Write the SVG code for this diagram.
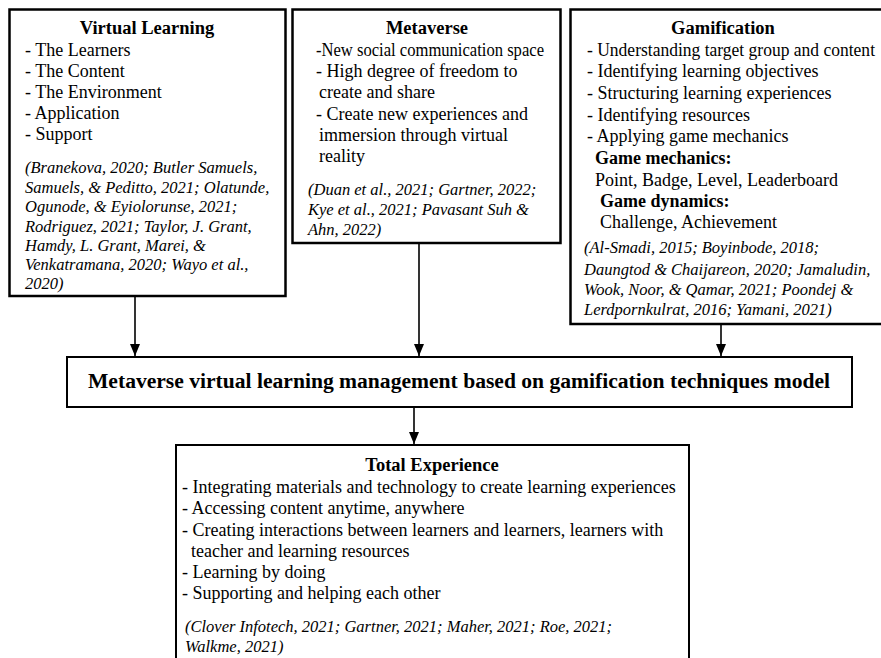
<svg xmlns="http://www.w3.org/2000/svg" width="881" height="658" viewBox="0 0 881 658">
<style>
.box{fill:#fff;stroke:#000;stroke-width:2.5}
.box2{fill:#fff;stroke:#000;stroke-width:2}
text{font-family:"Liberation Serif","Tinos","Times New Roman","DejaVu Serif",serif;fill:#000}
.t{font-size:18.5px;font-weight:bold;text-anchor:middle}
.b{font-size:18px;font-weight:bold}
.i{font-size:18px}
.c{font-size:16.5px;font-style:italic}
.conn{stroke:#000;stroke-width:1.6;fill:none}
</style>
<defs>
<marker id="ah" viewBox="0 0 12 10" refX="12" refY="5" markerWidth="12" markerHeight="10" markerUnits="userSpaceOnUse" orient="auto">
<path d="M0,0 L12,5 L0,10 Z" fill="#000"/>
</marker>
</defs>
<rect width="881" height="658" fill="#fff"/>
<g id="virtual-learning">
<rect class="box" x="9.5" y="9.5" width="276" height="286.5"/>
<text class="t" x="147" y="34">Virtual Learning</text>
<text class="i" x="25" y="56">- The Learners</text>
<text class="i" x="25" y="77">- The Content</text>
<text class="i" x="25" y="98">- The Environment</text>
<text class="i" x="25" y="119">- Application</text>
<text class="i" x="25" y="140">- Support</text>
<text class="c" x="25" y="173">(Branekova, 2020; Butler Samuels,</text>
<text class="c" x="25" y="192.5">Samuels, &amp; Peditto, 2021; Olatunde,</text>
<text class="c" x="25" y="212">Ogunode, &amp; Eyiolorunse, 2021;</text>
<text class="c" x="25" y="232">Rodriguez, 2021; Taylor, J. Grant,</text>
<text class="c" x="25" y="251">Hamdy, L. Grant, Marei, &amp;</text>
<text class="c" x="25" y="270">Venkatramana, 2020; Wayo et al.,</text>
<text class="c" x="25" y="289">2020)</text>
</g>
<g id="metaverse">
<rect class="box" x="292.5" y="9.5" width="268" height="233.5"/>
<text class="t" x="427" y="34">Metaverse</text>
<text class="i" x="316" y="56" textLength="228" lengthAdjust="spacingAndGlyphs">-New social communication space</text>
<text class="i" x="316" y="77">- High degree of freedom to</text>
<text class="i" x="319" y="98">create and share</text>
<text class="i" x="316" y="120">- Create new experiences and</text>
<text class="i" x="319" y="141">immersion through virtual</text>
<text class="i" x="319" y="162">reality</text>
<text class="c" x="308" y="195">(Duan et al., 2021; Gartner, 2022;</text>
<text class="c" x="308" y="215">Kye et al., 2021; Pavasant Suh &amp;</text>
<text class="c" x="308" y="235">Ahn, 2022)</text>
</g>
<g id="gamification">
<rect class="box" x="570.5" y="9.5" width="320" height="314.5"/>
<text class="t" x="723" y="34">Gamification</text>
<text class="i" x="587" y="55.5" textLength="288" lengthAdjust="spacingAndGlyphs">- Understanding target group and content</text>
<text class="i" x="587" y="77">- Identifying learning objectives</text>
<text class="i" x="587" y="99">- Structuring learning experiences</text>
<text class="i" x="587" y="120.5">- Identifying resources</text>
<text class="i" x="587" y="141.5">- Applying game mechanics</text>
<text class="b" x="595" y="164">Game mechanics:</text>
<text class="i" x="595" y="185.5">Point, Badge, Level, Leaderboard</text>
<text class="b" x="600" y="207">Game dynamics:</text>
<text class="i" x="600" y="227.5">Challenge, Achievement</text>
<text class="c" x="584" y="253">(Al-Smadi, 2015; Boyinbode, 2018;</text>
<text class="c" x="584" y="275">Daungtod &amp; Chaijareon, 2020; Jamaludin,</text>
<text class="c" x="584" y="295">Wook, Noor, &amp; Qamar, 2021; Poondej &amp;</text>
<text class="c" x="584" y="315">Lerdpornkulrat, 2016; Yamani, 2021)</text>
</g>
<g id="model">
<rect class="box2" x="67" y="357" width="785" height="50"/>
<text x="459" y="388" font-size="20" font-weight="bold" text-anchor="middle" textLength="742" lengthAdjust="spacingAndGlyphs">Metaverse virtual learning management based on gamification techniques model</text>
</g>
<g id="total-experience">
<rect class="box2" x="176" y="445" width="513" height="230"/>
<text class="t" x="432" y="471">Total Experience</text>
<text class="i" x="182" y="493">- Integrating materials and technology to create learning experiences</text>
<text class="i" x="182" y="514">- Accessing content anytime, anywhere</text>
<text class="i" x="182" y="535.5">- Creating interactions between learners and learners, learners with</text>
<text class="i" x="191" y="557">teacher and learning resources</text>
<text class="i" x="182" y="578">- Learning by doing</text>
<text class="i" x="182" y="599">- Supporting and helping each other</text>
<text class="c" x="185" y="632">(Clover Infotech, 2021; Gartner, 2021; Maher, 2021; Roe, 2021;</text>
<text class="c" x="185" y="652">Walkme, 2021)</text>
</g>
<g id="connectors">
<line class="conn" x1="135" y1="297" x2="135" y2="356" marker-end="url(#ah)"/>
<line class="conn" x1="419" y1="244" x2="419" y2="356" marker-end="url(#ah)"/>
<line class="conn" x1="721" y1="325" x2="721" y2="356" marker-end="url(#ah)"/>
<line class="conn" x1="414" y1="408" x2="414" y2="444" marker-end="url(#ah)"/>
</g>
</svg>
